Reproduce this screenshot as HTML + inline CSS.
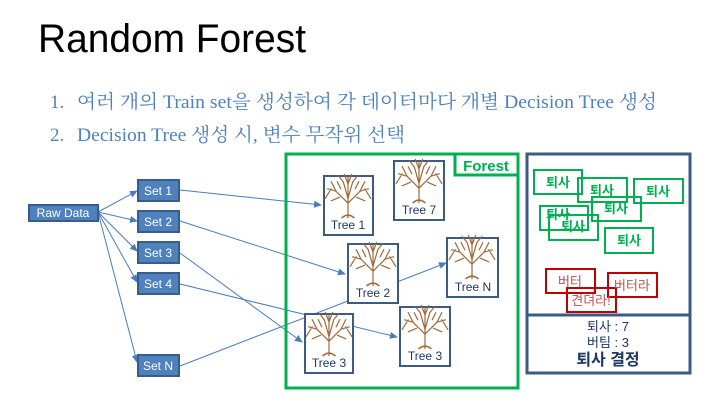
<!DOCTYPE html>
<html><head><meta charset="utf-8"><style>
html,body{margin:0;padding:0;background:#fff;width:727px;height:417px;overflow:hidden}
</style></head><body>
<svg width="727" height="417" xmlns="http://www.w3.org/2000/svg" style="position:absolute;left:0;top:0">
<defs>
<marker id="ar" markerWidth="8" markerHeight="8" refX="7" refY="4" orient="auto" markerUnits="userSpaceOnUse">
<path d="M0,0.5 L8,4 L0,7.5 z" fill="#4a7ebb"/></marker>
<g id="tree0" stroke="#a06a3a" fill="none" stroke-linecap="round">
<path d="M0,18 L0,0 M0,6 L-10,-4 M0,6 L10,-4 M0,2 L-4,-12 M0,2 L4,-12 M0,0 L0,-16 M-10,-4 L-17,-6 M-10,-4 L-14,-12 M10,-4 L17,-6 M10,-4 L14,-12 M-4,-12 L-8,-17 M4,-12 L8,-17 M0,-10 L-3,-18 M0,-10 L3,-18 M-6,-6 L-9,-12 M6,-6 L9,-12 M-14,-6 L-19,2 M14,-6 L19,2 M-7,1 L-14,4 M7,1 L14,4" stroke-width="1"/>
<path d="M-5,18 Q0,14 5,18" stroke-width="1.3"/>
</g>
<g id="tree" transform="scale(1.2)"><use href="#tree0"/></g>
</defs>
<text x="38" y="52" font-family="'Liberation Sans',sans-serif" font-size="40" fill="#000" textLength="268" lengthAdjust="spacingAndGlyphs">Random Forest</text>
<g font-family="'Liberation Serif','Noto Serif CJK KR','Noto Serif CJK SC',serif" font-size="19" fill="#4f81bd">
<text x="50" y="108">1.</text>
<text x="77" y="108" textLength="580" lengthAdjust="spacingAndGlyphs">여러 개의 Train set을 생성하여 각 데이터마다 개별 Decision Tree 생성</text>
<text x="50" y="141">2.</text>
<text x="77" y="141" textLength="328" lengthAdjust="spacingAndGlyphs">Decision Tree 생성 시, 변수 무작위 선택</text>
</g>
<!-- arrows -->
<g stroke="#4a7ebb" stroke-width="1" marker-end="url(#ar)">
<line x1="98" y1="212" x2="137" y2="191"/>
<line x1="98" y1="212" x2="137" y2="221"/>
<line x1="98" y1="212" x2="137" y2="251"/>
<line x1="98" y1="212" x2="137" y2="282"/>
<line x1="98" y1="212" x2="137" y2="362"/>
<line x1="180" y1="190" x2="321" y2="205"/>
<line x1="180" y1="221" x2="345" y2="274"/>
<line x1="180" y1="253" x2="302" y2="342"/>
<line x1="180" y1="284" x2="397" y2="337"/>
<line x1="180" y1="366" x2="446" y2="263"/>
</g>
<!-- boxes -->
<g fill="#4f81bd" stroke="#385d8a" stroke-width="2">
<rect x="29" y="205" width="69" height="16"/>
<rect x="138" y="180" width="41" height="21"/>
<rect x="138" y="211" width="41" height="21"/>
<rect x="138" y="242" width="41" height="21"/>
<rect x="138" y="273" width="41" height="21"/>
<rect x="138" y="355" width="41" height="21"/>
</g>
<g font-family="'Liberation Sans',sans-serif" font-size="12" fill="#fff" text-anchor="middle">
<text x="63" y="217">Raw Data</text>
<text x="158" y="195">Set 1</text>
<text x="158" y="226">Set 2</text>
<text x="158" y="257">Set 3</text>
<text x="158" y="288">Set 4</text>
<text x="158" y="370">Set N</text>
</g>
<!-- forest -->
<rect x="286" y="154" width="232" height="234" fill="none" stroke="#00b050" stroke-width="3"/>
<rect x="455" y="154" width="63" height="21" fill="#fff" stroke="#00b050" stroke-width="3"/>
<text x="486" y="171" text-anchor="middle" font-family="'Liberation Sans',sans-serif" font-weight="bold" font-size="15" fill="#00b050">Forest</text>
<g fill="#fff" stroke="#3b5b85" stroke-width="2">
<rect x="324" y="176" width="49" height="59"/>
<rect x="394" y="161" width="50" height="59"/>
<rect x="348" y="244" width="50" height="59"/>
<rect x="447" y="238" width="51" height="59"/>
<rect x="305" y="314" width="48" height="59"/>
<rect x="400" y="307" width="50" height="59"/>
</g>
<use href="#tree" x="348" y="196"/>
<use href="#tree" x="419" y="181"/>
<use href="#tree" x="373" y="264"/>
<use href="#tree" x="472" y="257"/>
<use href="#tree" x="329" y="334"/>
<use href="#tree" x="425" y="327"/>
<g font-family="'Liberation Sans',sans-serif" font-size="12" fill="#1f3864" text-anchor="middle">
<text x="348" y="229">Tree 1</text>
<text x="419" y="214">Tree 7</text>
<text x="373" y="297">Tree 2</text>
<text x="473" y="291">Tree N</text>
<text x="329" y="367">Tree 3</text>
<text x="425" y="360">Tree 3</text>
</g>
<!-- right panel -->
<rect x="527" y="154" width="163" height="219" fill="none" stroke="#3b5b85" stroke-width="3"/>
<line x1="527" y1="315" x2="690" y2="315" stroke="#3b5b85" stroke-width="3"/>
<g fill="none" stroke="#00b050" stroke-width="2">
<rect x="534" y="170" width="48" height="24"/>
<rect x="578" y="178" width="49" height="24"/>
<rect x="634" y="179" width="49" height="24"/>
<rect x="592" y="197" width="49" height="24"/>
<rect x="540" y="206" width="48" height="24"/>
<rect x="549" y="215" width="49" height="25"/>
<rect x="605" y="228" width="48" height="25"/>
</g>
<g font-family="'Liberation Sans','Noto Sans CJK KR',sans-serif" font-size="13" font-weight="bold" fill="#00b050" text-anchor="middle">
<text x="558" y="187">퇴사</text>
<text x="602" y="195">퇴사</text>
<text x="658" y="196">퇴사</text>
<text x="616" y="213">퇴사</text>
<text x="558" y="219">퇴사</text>
<text x="573" y="231">퇴사</text>
<text x="629" y="245">퇴사</text>
</g>
<g fill="none" stroke="#c00000" stroke-width="2">
<rect x="546" y="269" width="49" height="24"/>
<rect x="608" y="273" width="49" height="24"/>
<rect x="567" y="288" width="49" height="24"/>
</g>
<g font-family="'Liberation Sans','Noto Sans CJK KR',sans-serif" font-size="13" fill="#c0504d" text-anchor="middle">
<text x="570" y="286">버터</text>
<text x="632" y="290">버터라</text>
<text x="591" y="305">견뎌라!</text>
</g>
<g font-family="'Liberation Sans','Noto Sans CJK KR',sans-serif" fill="#1f3864" text-anchor="middle">
<text x="608" y="331" font-size="13">퇴사 : 7</text>
<text x="608" y="347" font-size="13">버팀 : 3</text>
<text x="608" y="365" font-size="16" font-weight="bold">퇴사 결정</text>
</g>
</svg>
</body></html>
